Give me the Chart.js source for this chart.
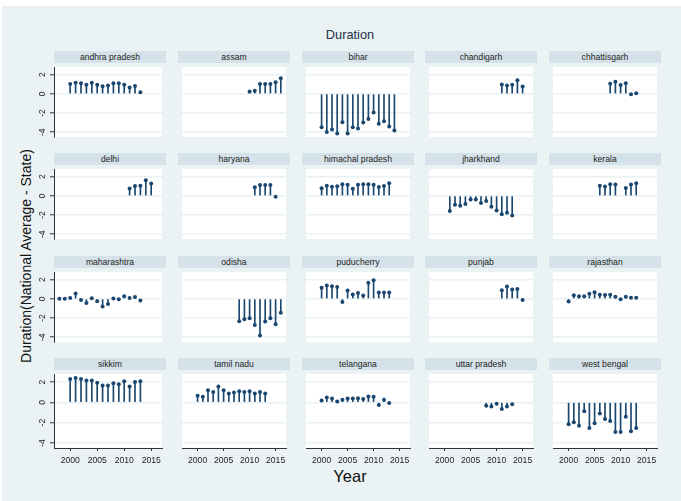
<!DOCTYPE html>
<html>
<head>
<meta charset="utf-8">
<script src="https://cdn.jsdelivr.net/npm/chart.js@4.4.1/dist/chart.umd.min.js"></script>
<style>
  html, body { margin: 0; padding: 0; background: #ffffff; }
  #frame { position: relative; width: 681px; height: 501px; overflow: hidden; background: #ffffff;
           font-family: "Liberation Sans", Arial, sans-serif; }
  #bg { position: absolute; left: 2px; top: 6px; right: 0; bottom: 0; background: #eaf2f3; }
  .strip { position: absolute; height: 12px; background: #d6e2e9; color: #222; font-size: 8.6px;
           line-height: 12px; text-align: center; white-space: nowrap; }
  .panel { position: absolute; }
  #title { position: absolute; left: 350px; top: 34px; transform: translate(-50%, -50%);
           font-size: 12.8px; color: #24304a; white-space: nowrap; }
  #ytitle { position: absolute; left: 26px; top: 256px; transform: translate(-50%, -50%) rotate(-90deg);
            font-size: 14px; color: #111; white-space: nowrap; }
  #xtitle { position: absolute; left: 350px; top: 476px; transform: translate(-50%, -50%);
            font-size: 16.5px; color: #111; white-space: nowrap; }
</style>
</head>
<body>
<div id="frame">
  <div id="bg"></div>
  <div id="title">Duration</div>
  <div id="ytitle">Duration(National Average - State)</div>
  <div id="xtitle">Year</div>
</div>
<script>
// Panel names, in row-major order
const states = [
  'andhra pradesh', 'assam', 'bihar', 'chandigarh', 'chhattisgarh',
  'delhi', 'haryana', 'himachal pradesh', 'jharkhand', 'kerala',
  'maharashtra', 'odisha', 'puducherry', 'punjab', 'rajasthan',
  'sikkim', 'tamil nadu', 'telangana', 'uttar pradesh', 'west bengal'
];

// First year of each state's series (values run one per year; null = no observation)
const firstYear = [
  2000, 2010, 2000, 2011, 2008,
  2011, 2011, 2000, 2001, 2006,
  1998, 2008, 2000, 2011, 2000,
  2000, 2000, 2000, 2008, 2000
];

// Duration gap (national average minus state), one array per state
const andhraPradesh   = [1.02, 1.17, 1.11, 0.95, 1.17, 0.95, 0.79, 0.86, 1.11, 1.11, 0.95, 0.67, 0.83, 0.16];
const assam           = [0.25, 0.32, 1.02, 1.02, 1.02, 1.21, 1.62];
const bihar           = [-3.49, -3.97, -3.71, -4.13, -2.95, -4.13, -3.49, -3.62, -2.98, -2.63, -1.94, -3.11, -2.86, -3.40, -3.81];
const chandigarh      = [0.98, 0.86, 0.95, 1.43, 0.76];
const chhattisgarh    = [1.05, 1.27, 0.92, 1.11, -0.03, 0.06];
const delhi           = [0.76, 1.02, 1.05, 1.62, 1.30];
const haryana         = [0.89, 1.14, 1.14, 1.14, -0.09];
const himachalPradesh = [0.78, 1.06, 0.94, 1.00, 1.22, 1.16, 0.75, 1.16, 1.22, 1.22, 1.16, 0.91, 1.03, 1.31];
const jharkhand       = [-1.59, -0.94, -1.03, -0.84, -0.38, -0.38, -0.75, -0.53, -1.13, -1.53, -1.91, -1.75, -2.06];
const kerala          = [1.06, 0.97, 1.22, 1.19, null, 0.81, 1.19, 1.31];
const maharashtra     = [0.02, 0.02, 0.09, 0.55, -0.12, -0.43, 0.06, -0.25, -0.80, -0.55, 0.03, -0.03, 0.28, 0.09, 0.18, -0.18];
const odisha          = [-2.34, -2.12, -2.03, -2.74, -3.82, -2.37, -2.03, -2.65, -1.45];
const puducherry      = [1.17, 1.38, 1.32, 1.23, -0.34, 0.86, 0.46, 0.62, 0.34, 1.69, 1.94, 0.65, 0.65, 0.65];
const punjab          = [0.89, 1.29, 0.98, 1.02, -0.12];
const rajasthan       = [-0.28, 0.37, 0.28, 0.28, 0.52, 0.68, 0.43, 0.40, 0.43, 0.22, -0.03, 0.22, 0.12, 0.12];
const sikkim          = [2.31, 2.41, 2.31, 2.16, 2.16, 1.94, 1.66, 1.66, 1.88, 1.78, 2.09, 1.56, 2.00, 2.09];
const tamilNadu       = [0.66, 0.56, 1.19, 1.03, 1.56, 1.19, 0.88, 0.97, 1.09, 1.03, 1.09, 0.88, 1.03, 0.88];
const telangana       = [0.19, 0.47, 0.38, 0.09, 0.25, 0.38, 0.38, 0.41, 0.34, 0.59, 0.56, -0.25, 0.25, -0.06];
const uttarPradesh    = [-0.34, -0.41, -0.13, -0.66, -0.41, -0.19];
const westBengal      = [-2.16, -1.97, -2.31, -0.88, -2.53, -2.06, -1.09, -1.63, -1.84, -2.91, -2.91, -1.41, -2.84, -2.53];

const series = [
  andhraPradesh, assam, bihar, chandigarh, chhattisgarh,
  delhi, haryana, himachalPradesh, jharkhand, kerala,
  maharashtra, odisha, puducherry, punjab, rajasthan,
  sikkim, tamilNadu, telangana, uttarPradesh, westBengal
];

// Axis ticks
const xTickValues = [2000, 2005, 2010, 2015];
const xTickLabels = ['2000', '2005', '2010', '2015'];
const yTickValues = [2, 0, -2, -4];
const yTickLabels = ['2', '0', '-2', '-4'];

// Layout of the 5 x 4 grid of panels
const NCOLS = 5, NROWS = 4;
const colLeft = [54, 178, 302, 425, 549];
const rowTop = [51, 153, 256, 358];    // top of each title strip
const STRIP_H = 12, PLOT_W = 112, PLOT_H = 78;
const YAXIS_W = 30, XAXIS_H = 24;
const NAVY = '#1a476f';

// White plot region, and vertical tick labels on the left axis
const panelPlugin = {
  id: 'panelDecor',
  beforeDraw(chart) {
    const a = chart.chartArea, ctx = chart.ctx;
    ctx.save();
    ctx.fillStyle = '#ffffff';
    ctx.fillRect(a.left, a.top, a.right - a.left, a.bottom - a.top);
    ctx.restore();
  },
  afterDraw(chart, args, opts) {
    if (!opts.leftLabels) return;
    const ctx = chart.ctx, ys = chart.scales.y;
    ctx.save();
    ctx.fillStyle = '#222';
    ctx.font = '8.5px "Liberation Sans", Arial, sans-serif';
    ctx.textAlign = 'center';
    ctx.textBaseline = 'middle';
    yTickValues.forEach((v, i) => {
      const py = ys.getPixelForValue(v);
      ctx.save();
      ctx.translate(chart.chartArea.left - 11, py);
      ctx.rotate(-Math.PI / 2);
      ctx.fillText(yTickLabels[i], 0, 0);
      ctx.restore();
    });
    ctx.restore();
  }
};

const frame = document.getElementById('frame');

states.forEach((name, k) => {
  const r = Math.floor(k / NCOLS), c = k % NCOLS;
  const hasY = c === 0, hasX = r === NROWS - 1;

  const strip = document.createElement('div');
  strip.className = 'strip';
  strip.style.left = colLeft[c] + 'px';
  strip.style.top = rowTop[r] + 'px';
  strip.style.width = PLOT_W + 'px';
  strip.textContent = name;
  frame.appendChild(strip);

  const w = PLOT_W + (hasY ? YAXIS_W : 0);
  const h = PLOT_H + (hasX ? XAXIS_H : 0);
  const cv = document.createElement('canvas');
  cv.className = 'panel';
  cv.width = w; cv.height = h;
  cv.style.width = w + 'px'; cv.style.height = h + 'px';
  cv.style.left = (colLeft[c] - (hasY ? YAXIS_W : 0)) + 'px';
  cv.style.top = (rowTop[r] + STRIP_H) + 'px';
  frame.appendChild(cv);

  const pts = [];
  series[k].forEach((v, i) => { if (v !== null) pts.push({ x: firstYear[k] + i, y: v }); });

  new Chart(cv, {
    type: 'scatter',
    data: {
      datasets: [
        { type: 'bar', data: pts, backgroundColor: NAVY, borderWidth: 0, barThickness: 1, order: 2 },
        { type: 'scatter', data: pts, backgroundColor: NAVY, borderWidth: 0, pointRadius: 2, order: 1 }
      ]
    },
    options: {
      responsive: false, maintainAspectRatio: false, animation: false, events: [],
      devicePixelRatio: 1,
      layout: { padding: 0 },
      plugins: { legend: { display: false }, tooltip: { enabled: false }, title: { display: false },
                 panelDecor: { leftLabels: hasY } },
      scales: {
        x: {
          type: 'linear', min: 1997, max: 2017, offset: false,
          display: hasX,
          afterBuildTicks: s => { s.ticks = xTickValues.map(v => ({ value: v })); },
          afterFit: s => { s.height = hasX ? XAXIS_H : 0; },
          grid: { drawOnChartArea: false, offset: false, tickLength: 3, tickColor: '#333', tickWidth: 1 },
          border: { display: true, color: '#333', width: 1 },
          ticks: {
            autoSkip: false, maxRotation: 0, minRotation: 0, padding: 4, color: '#222',
            font: { family: '"Liberation Sans", Arial, sans-serif', size: 8.6 },
            callback: v => { const i = xTickValues.indexOf(v); return i >= 0 ? xTickLabels[i] : ''; }
          }
        },
        y: {
          type: 'linear', min: -4.5, max: 2.8,
          afterBuildTicks: s => { s.ticks = yTickValues.map(v => ({ value: v })); },
          afterFit: s => { s.width = hasY ? YAXIS_W : 0; },
          grid: { color: '#e9f1f3', lineWidth: 1.6, drawTicks: hasY, tickLength: 4, tickColor: '#333', tickWidth: 1 },
          border: { display: hasY, color: '#333', width: 1 },
          ticks: { display: false }
        }
      }
    },
    plugins: [panelPlugin]
  });
});
</script>
</body>
</html>
